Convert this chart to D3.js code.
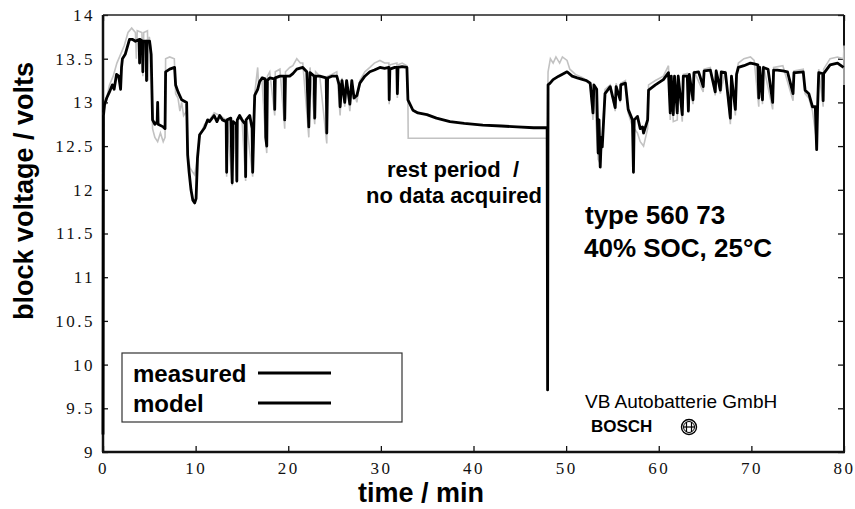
<!DOCTYPE html>
<html>
<head>
<meta charset="utf-8">
<script src="https://cdn.jsdelivr.net/npm/d3@7"></script>
<style>
  body { margin: 0; background: #fff; }
  svg { display: block; }
</style>
</head>
<body>
<div id="chart"></div>
<script>
// axis ticks
const xTicks = [0, 10, 20, 30, 40, 50, 60, 70, 80];
const yTicks = [9, 9.5, 10, 10.5, 11, 11.5, 12, 12.5, 13, 13.5, 14];

// model trace [time / min, voltage / V]
const model = [
    [0, 9.2], [0.05, 12.85], [0.16, 12.97], [0.4, 13.05], [0.7, 13.12], [1.0, 13.2], [1.2, 13.15],
    [1.46, 13.32], [1.7, 13.3], [1.9, 13.15], [2.0, 13.4], [2.1, 13.5], [2.4, 13.55], [2.86, 13.72],
    [3.2, 13.72], [3.5, 13.7], [3.9, 13.72], [3.95, 13.45], [4.0, 13.72], [4.25, 13.7], [4.3, 13.35],
    [4.35, 13.7], [4.65, 13.7], [4.7, 13.25], [4.75, 13.7], [5.03, 13.7], [5.2, 13.55], [5.35, 12.8],
    [5.6, 12.75], [5.85, 12.78], [5.9, 13.0], [5.95, 12.75], [6.5, 12.72], [6.7, 12.7], [6.76, 13.35],
    [7.2, 13.38], [7.73, 13.4], [7.84, 13.2], [8.1, 13.12], [8.49, 13.03], [9.03, 13.0], [9.14, 12.4],
    [9.3, 12.2], [9.5, 12.0], [9.7, 11.88], [9.9, 11.85], [10.05, 11.9], [10.2, 12.36], [10.43, 12.63],
    [10.97, 12.71], [11.3, 12.8], [11.5, 12.78], [12.0, 12.85], [12.3, 12.78], [12.6, 12.85], [12.9, 12.8],
    [13.3, 12.78], [13.35, 12.2], [13.4, 12.8], [13.8, 12.82], [13.95, 12.08], [14.05, 12.78],
    [14.4, 12.75], [14.45, 12.1], [14.5, 12.8], [14.75, 12.85], [15.0, 12.8], [15.35, 12.75],
    [15.4, 12.15], [15.45, 12.8], [15.84, 12.85], [16.1, 12.7], [16.16, 12.2], [16.3, 12.8],
    [16.38, 13.08], [16.7, 13.15], [16.92, 13.24], [17.2, 13.28], [17.5, 13.27], [17.57, 12.6],
    [17.68, 12.5], [17.75, 13.25], [18.0, 13.28], [18.5, 13.27], [18.54, 12.92], [18.6, 13.28],
    [19.1, 13.3], [19.55, 13.3], [19.62, 12.8], [19.7, 13.3], [20.16, 13.3], [20.5, 13.33],
    [20.92, 13.38], [21.57, 13.4], [22.0, 13.35], [22.22, 12.72], [22.35, 13.34], [22.8, 13.3],
    [22.86, 12.82], [22.95, 13.3], [23.4, 13.3], [24.1, 13.28], [24.16, 12.65], [24.25, 13.28],
    [24.7, 13.3], [25.24, 13.3], [25.5, 13.2], [25.6, 12.95], [25.8, 13.25], [26.1, 13.0], [26.3, 13.25],
    [26.65, 12.98], [26.86, 13.25], [27.1, 13.05], [27.41, 13.08], [27.73, 13.22], [28.27, 13.3],
    [28.81, 13.35], [29.3, 13.37], [29.9, 13.4], [30.4, 13.39], [30.86, 13.4], [30.9, 13.03],
    [30.97, 13.38], [31.5, 13.4], [31.73, 13.4], [31.78, 13.1], [31.85, 13.4], [32.3, 13.41],
    [32.81, 13.4], [32.92, 13.03], [33.46, 12.91], [34.0, 12.88], [34.97, 12.86], [36.0, 12.82],
    [37.46, 12.78], [39.0, 12.76], [41.0, 12.74], [43.0, 12.73], [44.7, 12.72], [46.5, 12.71],
    [47.95, 12.71], [48.0, 9.71], [48.05, 13.2], [48.27, 13.22], [48.59, 13.26], [49.2, 13.3],
    [50.1, 13.35], [50.65, 13.3], [51.2, 13.28], [51.84, 13.26], [52.2, 13.25], [52.6, 13.22],
    [52.9, 12.88], [53.0, 13.2], [53.3, 13.15], [53.46, 12.42], [53.55, 12.8], [53.68, 12.26],
    [53.8, 12.6], [53.9, 12.49], [54.2, 13.1], [54.76, 13.18], [55.3, 12.94], [55.4, 13.18],
    [55.84, 13.03], [55.9, 13.2], [56.4, 13.22], [56.7, 12.92], [57.16, 12.8], [57.27, 12.2],
    [57.35, 12.8], [57.7, 12.84], [58.0, 12.7], [58.25, 12.72], [58.36, 12.65], [58.8, 12.8],
    [58.9, 13.14], [59.64, 13.2], [60.5, 13.26], [61.05, 13.34], [61.24, 12.88], [61.35, 13.3],
    [61.57, 12.86], [61.7, 13.3], [62.0, 12.88], [62.1, 13.3], [62.54, 12.86], [62.65, 13.3],
    [63.08, 13.3], [63.2, 12.9], [63.3, 13.32], [63.7, 13.03], [63.8, 13.34], [64.3, 13.35],
    [64.8, 13.18], [64.9, 13.36], [65.57, 13.37], [66.1, 13.12], [66.2, 13.36], [66.65, 13.14],
    [66.75, 13.35], [67.2, 13.34], [67.73, 12.82], [67.85, 13.3], [68.27, 12.92], [68.4, 13.32],
    [68.6, 13.4], [69.2, 13.42], [69.9, 13.45], [70.3, 13.44], [70.7, 13.43], [70.8, 13.05],
    [70.9, 13.4], [71.2, 13.03], [71.3, 13.4], [71.8, 13.38], [72.3, 13.0], [72.4, 13.37],
    [72.8, 13.37], [73.4, 13.36], [73.9, 13.35], [74.5, 13.1], [74.6, 13.34], [74.8, 13.34],
    [75.6, 13.35], [75.8, 13.14], [76.2, 13.1], [76.6, 12.95], [76.9, 12.95], [77.05, 12.46],
    [77.15, 12.95], [77.27, 13.34], [77.7, 13.33], [77.75, 13.02], [77.8, 13.33], [78.5, 13.43],
    [79.3, 13.45], [79.95, 13.4]
];

// measured trace [time / min, voltage / V]
const measured = [
    [0, 12.85], [0.3, 13.0], [0.7, 13.2], [1.1, 13.3], [1.5, 13.45], [1.9, 13.55], [2.3, 13.65],
    [2.7, 13.8], [3.1, 13.85], [3.5, 13.8], [3.6, 13.5], [3.7, 13.82], [4.2, 13.8], [4.3, 13.3],
    [4.4, 13.8], [4.8, 13.82], [4.9, 13.25], [5.0, 13.75], [5.2, 13.6], [5.35, 12.7], [5.6, 12.6],
    [5.9, 12.55], [6.2, 12.65], [6.5, 12.55], [6.7, 12.6], [6.76, 13.5], [7.2, 13.52], [7.7, 13.5],
    [7.84, 13.1], [8.1, 13.05], [8.3, 12.9], [8.5, 13.0], [8.7, 12.85], [9.03, 12.9], [9.14, 12.4],
    [9.4, 12.25], [9.7, 12.2], [9.9, 12.17], [10.1, 12.3], [10.4, 12.6], [10.97, 12.75], [11.5, 12.8],
    [12.0, 12.88], [12.6, 12.85], [13.3, 12.8], [13.35, 12.15], [13.4, 12.8], [13.95, 12.05],
    [14.05, 12.8], [14.45, 12.08], [14.5, 12.8], [15.0, 12.82], [15.4, 12.1], [15.45, 12.8],
    [16.16, 12.15], [16.3, 12.8], [16.38, 13.1], [16.7, 13.4], [16.8, 13.2], [17.14, 13.3],
    [17.57, 12.55], [17.68, 12.42], [17.75, 13.3], [18.0, 13.35], [18.54, 12.85], [18.6, 13.35],
    [19.1, 13.38], [19.62, 12.7], [19.7, 13.35], [20.16, 13.4], [20.5, 13.42], [20.92, 13.5],
    [21.3, 13.45], [21.57, 13.45], [22.22, 12.6], [22.35, 13.4], [22.86, 12.75], [22.95, 13.35],
    [23.4, 13.3], [24.16, 12.53], [24.25, 13.3], [24.7, 13.32], [25.24, 13.35], [25.6, 12.85],
    [25.8, 13.28], [26.1, 12.95], [26.3, 13.25], [26.65, 12.9], [26.86, 13.2], [27.41, 13.0],
    [27.73, 13.25], [28.27, 13.35], [28.81, 13.4], [29.3, 13.45], [29.9, 13.48], [30.4, 13.45],
    [30.86, 13.45], [30.9, 12.98], [30.97, 13.43], [31.73, 13.45], [31.78, 13.05], [31.85, 13.43],
    [32.3, 13.45], [32.81, 13.42], [32.92, 13.0], [32.95, 12.59], [40.0, 12.59], [47.95, 12.59],
    [48.05, 13.35], [48.3, 13.5], [48.6, 13.45], [48.9, 13.52], [49.3, 13.45], [49.6, 13.52],
    [50.1, 13.48], [50.4, 13.38], [51.0, 13.32], [51.84, 13.28], [52.6, 13.2], [52.9, 12.8],
    [53.0, 13.18], [53.46, 12.35], [53.68, 12.3], [53.8, 12.45], [54.2, 13.15], [54.76, 13.2],
    [55.3, 12.9], [55.4, 13.22], [55.84, 13.0], [55.9, 13.22], [56.4, 13.25], [56.7, 12.88],
    [57.16, 12.72], [57.27, 12.3], [57.35, 12.7], [57.7, 12.65], [58.0, 12.55], [58.36, 12.5],
    [58.8, 12.7], [58.9, 13.2], [59.64, 13.25], [60.5, 13.3], [61.05, 13.42], [61.24, 12.8],
    [61.35, 13.3], [61.57, 12.78], [62.0, 12.8], [62.1, 13.32], [62.54, 12.78], [62.65, 13.32],
    [63.08, 13.33], [63.7, 12.98], [63.8, 13.36], [64.8, 13.12], [64.9, 13.38], [65.57, 13.4],
    [66.1, 13.08], [66.2, 13.38], [66.65, 13.1], [67.2, 13.36], [67.73, 12.75], [67.85, 13.3],
    [68.27, 12.85], [68.4, 13.35], [68.6, 13.45], [69.2, 13.5], [69.9, 13.52], [70.3, 13.48],
    [70.8, 12.95], [70.9, 13.42], [71.2, 12.98], [71.3, 13.42], [72.3, 12.92], [72.4, 13.4],
    [73.4, 13.42], [74.5, 13.02], [74.6, 13.36], [75.6, 13.38], [75.8, 13.1], [76.2, 13.05],
    [76.6, 12.9], [77.05, 12.55], [77.15, 12.9], [77.27, 13.38], [77.75, 12.95], [77.8, 13.38],
    [78.5, 13.5], [79.3, 13.52], [79.95, 13.5], [80, 13.65], [80, 13.2]
];

const legendItems = ['measured', 'model'];

const width = 855;
const height = 509;
const margin = { top: 15, right: 11, bottom: 57, left: 103 };

const svg = d3.select('#chart')
    .append('svg')
    .attr('width', width)
    .attr('height', height);

const xScale = d3.scaleLinear()
    .domain([0, 80])
    .range([margin.left, width - margin.right]);

const yScale = d3.scaleLinear()
    .domain([9, 14])
    .range([height - margin.bottom, margin.top]);

const serif = '"Liberation Serif", "Times New Roman", serif';
const sans = '"Liberation Sans", Arial, Helvetica, sans-serif';

// axes with inward ticks
function styleAxis(g) {
    g.select('.domain').remove();
    g.selectAll('line').attr('stroke', '#111').attr('stroke-width', 1.3);
    g.selectAll('text')
        .attr('fill', '#111')
        .style('font-family', serif)
        .style('font-size', '17px')
        .style('letter-spacing', '2.5px');
}

svg.append('g')
    .attr('transform', `translate(0, ${yScale(9)})`)
    .call(d3.axisBottom(xScale).tickValues(xTicks).tickSize(-6).tickPadding(10).tickFormat(d3.format('')))
    .call(styleAxis);

svg.append('g')
    .attr('transform', `translate(0, ${yScale(14)})`)
    .call(d3.axisTop(xScale).tickValues(xTicks).tickSize(-6).tickFormat(''))
    .call(styleAxis);

svg.append('g')
    .attr('transform', `translate(${xScale(0)}, 0)`)
    .call(d3.axisLeft(yScale).tickValues(yTicks).tickSize(-5).tickPadding(8).tickFormat(d3.format('')))
    .call(styleAxis);

svg.append('g')
    .attr('transform', `translate(${xScale(80)}, 0)`)
    .call(d3.axisRight(yScale).tickValues(yTicks).tickSize(-6).tickFormat(''))
    .call(styleAxis);

// frame
svg.append('line')
    .attr('x1', xScale(0)).attr('x2', xScale(80))
    .attr('y1', yScale(14)).attr('y2', yScale(14))
    .attr('stroke', '#222').attr('stroke-width', 1.5);
svg.append('line')
    .attr('x1', xScale(80)).attr('x2', xScale(80))
    .attr('y1', yScale(14)).attr('y2', yScale(9))
    .attr('stroke', '#111').attr('stroke-width', 2);
svg.append('line')
    .attr('x1', xScale(0) - 1).attr('x2', xScale(80) + 1)
    .attr('y1', yScale(9)).attr('y2', yScale(9))
    .attr('stroke', '#111').attr('stroke-width', 2.5);
svg.append('line')
    .attr('x1', xScale(0)).attr('x2', xScale(0))
    .attr('y1', yScale(14)).attr('y2', yScale(9))
    .attr('stroke', '#111').attr('stroke-width', 2.5);

// traces
const line = d3.line()
    .x(d => xScale(d[0]))
    .y(d => yScale(d[1]));

svg.append('path')
    .datum(measured)
    .attr('d', line)
    .attr('fill', 'none')
    .attr('stroke', '#c2c2c2')
    .attr('stroke-width', 1.6);

svg.append('path')
    .datum(model)
    .attr('d', line)
    .attr('fill', 'none')
    .attr('stroke', '#000')
    .attr('stroke-width', 2.8)
    .attr('stroke-linejoin', 'round');

// axis titles
svg.append('text')
    .attr('x', 421)
    .attr('y', 502)
    .attr('text-anchor', 'middle')
    .style('font-family', sans)
    .style('font-weight', 'bold')
    .style('font-size', '27px')
    .text('time / min');

svg.append('text')
    .attr('transform', 'rotate(-90)')
    .attr('x', -191)
    .attr('y', 33)
    .attr('text-anchor', 'middle')
    .style('font-family', sans)
    .style('font-weight', 'bold')
    .style('font-size', '27px')
    .text('block voltage / volts');

// annotations
const notes = [
    { text: 'rest period  /', x: 453, y: 177, size: 22, weight: 'bold', anchor: 'middle' },
    { text: 'no data acquired', x: 454, y: 203, size: 22, weight: 'bold', anchor: 'middle' },
    { text: 'type 560 73', x: 585, y: 224, size: 26, weight: 'bold', anchor: 'start' },
    { text: '40% SOC, 25°C', x: 584, y: 257, size: 26, weight: 'bold', anchor: 'start' },
    { text: 'VB Autobatterie GmbH', x: 585, y: 408, size: 19, weight: 'normal', anchor: 'start' },
    { text: 'BOSCH', x: 591, y: 432, size: 17, weight: '900', anchor: 'start' }
];
svg.selectAll('text.note')
    .data(notes)
    .enter()
    .append('text')
    .attr('class', 'note')
    .attr('x', d => d.x)
    .attr('y', d => d.y)
    .attr('text-anchor', d => d.anchor)
    .style('white-space', 'pre')
    .style('font-family', sans)
    .style('font-weight', d => d.weight)
    .style('font-size', d => d.size + 'px')
    .text(d => d.text);

// Bosch armature logo
const logo = svg.append('g')
    .attr('transform', 'translate(689, 427)')
    .attr('fill', 'none')
    .attr('stroke', '#000');
logo.append('circle').attr('r', 7.5).attr('stroke-width', 1.4);
logo.append('circle').attr('r', 5.5).attr('stroke-width', 1);
logo.append('line').attr('x1', -2.5).attr('x2', -2.5).attr('y1', -5).attr('y2', 5).attr('stroke-width', 1.2);
logo.append('line').attr('x1', 2.5).attr('x2', 2.5).attr('y1', -5).attr('y2', 5).attr('stroke-width', 1.2);
logo.append('line').attr('x1', -5.5).attr('x2', 5.5).attr('y1', 0).attr('y2', 0).attr('stroke-width', 1.2);

// legend
const legend = svg.append('g');
legend.append('rect')
    .attr('x', 122)
    .attr('y', 353)
    .attr('width', 280)
    .attr('height', 69)
    .attr('fill', '#fff')
    .attr('stroke', '#333')
    .attr('stroke-width', 1.2);

legend.selectAll('g.item')
    .data(legendItems)
    .enter()
    .append('g')
    .attr('class', 'item')
    .attr('transform', (d, i) => `translate(0, ${i * 30})`)
    .each(function(d) {
        const g = d3.select(this);
        g.append('text')
            .attr('x', 133)
            .attr('y', 382)
            .style('font-family', sans)
            .style('font-weight', 'bold')
            .style('font-size', '24px')
            .text(d);
        g.append('line')
            .attr('x1', 258)
            .attr('x2', 331)
            .attr('y1', 373)
            .attr('y2', 373)
            .attr('stroke', '#000')
            .attr('stroke-width', 3.2);
    });
</script>
</body>
</html>
